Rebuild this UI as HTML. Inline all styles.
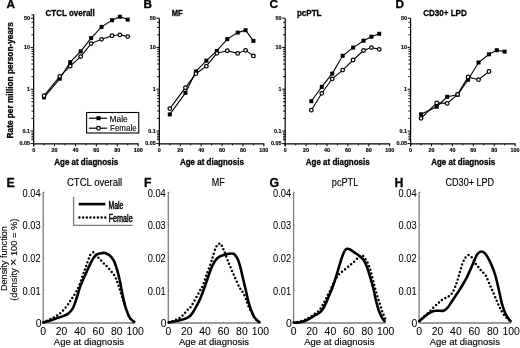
<!DOCTYPE html><html><head><meta charset="utf-8"><style>
html,body{margin:0;padding:0;background:#fff;width:520px;height:348px;overflow:hidden}
svg{display:block;will-change:transform}
text{font-family:"Liberation Sans", sans-serif}
.tl{font-size:5.4px;font-weight:bold;stroke:#000;stroke-width:0.15px}
.xt{font-size:8.5px;font-weight:bold;stroke:#000;stroke-width:0.3px}
.tt{font-size:8.4px;font-weight:bold;stroke:#000;stroke-width:0.3px}
.pl{font-size:11.8px;font-weight:bold;stroke:#000;stroke-width:0.3px}
.bl{font-size:10.4px;stroke:#000;stroke-width:0.05px}
.bx{font-size:9.8px;stroke:#000;stroke-width:0.15px}
.bt{font-size:10px;stroke:#000;stroke-width:0.15px}
.yt{font-size:8.4px;font-weight:bold;stroke:#000;stroke-width:0.3px}
.yb{font-size:9px;stroke:#000;stroke-width:0.12px}
.lg{font-size:8.4px;stroke:#000;stroke-width:0.12px}
.lgb{font-size:10.3px;stroke:#000;stroke-width:0.5px}
</style></head><body>
<svg width="520" height="348" viewBox="0 0 520 348">
<line x1="33.65" y1="14.6" x2="33.65" y2="146.20000000000002" stroke="#000" stroke-width="1.2"/>
<line x1="33.05" y1="143.8" x2="138.65" y2="143.8" stroke="#000" stroke-width="1.25"/>
<line x1="30.65" y1="18.18" x2="33.65" y2="18.18" stroke="#000" stroke-width="1"/>
<line x1="30.65" y1="47.40" x2="33.65" y2="47.40" stroke="#000" stroke-width="1"/>
<line x1="30.65" y1="89.20" x2="33.65" y2="89.20" stroke="#000" stroke-width="1"/>
<line x1="30.65" y1="131.00" x2="33.65" y2="131.00" stroke="#000" stroke-width="1"/>
<line x1="30.65" y1="143.58" x2="33.65" y2="143.58" stroke="#000" stroke-width="1"/>
<line x1="31.45" y1="34.82" x2="33.65" y2="34.82" stroke="#000" stroke-width="0.95"/>
<line x1="31.45" y1="27.46" x2="33.65" y2="27.46" stroke="#000" stroke-width="0.95"/>
<line x1="31.45" y1="22.23" x2="33.65" y2="22.23" stroke="#000" stroke-width="0.95"/>
<line x1="31.45" y1="76.62" x2="33.65" y2="76.62" stroke="#000" stroke-width="0.95"/>
<line x1="31.45" y1="69.26" x2="33.65" y2="69.26" stroke="#000" stroke-width="0.95"/>
<line x1="31.45" y1="64.03" x2="33.65" y2="64.03" stroke="#000" stroke-width="0.95"/>
<line x1="31.45" y1="59.98" x2="33.65" y2="59.98" stroke="#000" stroke-width="0.95"/>
<line x1="31.45" y1="56.67" x2="33.65" y2="56.67" stroke="#000" stroke-width="0.95"/>
<line x1="31.45" y1="53.87" x2="33.65" y2="53.87" stroke="#000" stroke-width="0.95"/>
<line x1="31.45" y1="51.45" x2="33.65" y2="51.45" stroke="#000" stroke-width="0.95"/>
<line x1="31.45" y1="49.31" x2="33.65" y2="49.31" stroke="#000" stroke-width="0.95"/>
<line x1="31.45" y1="118.42" x2="33.65" y2="118.42" stroke="#000" stroke-width="0.95"/>
<line x1="31.45" y1="111.06" x2="33.65" y2="111.06" stroke="#000" stroke-width="0.95"/>
<line x1="31.45" y1="105.83" x2="33.65" y2="105.83" stroke="#000" stroke-width="0.95"/>
<line x1="31.45" y1="101.78" x2="33.65" y2="101.78" stroke="#000" stroke-width="0.95"/>
<line x1="31.45" y1="98.47" x2="33.65" y2="98.47" stroke="#000" stroke-width="0.95"/>
<line x1="31.45" y1="95.67" x2="33.65" y2="95.67" stroke="#000" stroke-width="0.95"/>
<line x1="31.45" y1="93.25" x2="33.65" y2="93.25" stroke="#000" stroke-width="0.95"/>
<line x1="31.45" y1="91.11" x2="33.65" y2="91.11" stroke="#000" stroke-width="0.95"/>
<line x1="31.45" y1="14.87" x2="33.65" y2="14.87" stroke="#000" stroke-width="0.95"/>
<line x1="31.45" y1="133.00" x2="33.65" y2="133.00" stroke="#000" stroke-width="0.95"/>
<line x1="31.45" y1="134.60" x2="33.65" y2="134.60" stroke="#000" stroke-width="0.95"/>
<line x1="31.45" y1="136.30" x2="33.65" y2="136.30" stroke="#000" stroke-width="0.95"/>
<line x1="31.45" y1="138.00" x2="33.65" y2="138.00" stroke="#000" stroke-width="0.95"/>
<line x1="31.45" y1="139.70" x2="33.65" y2="139.70" stroke="#000" stroke-width="0.95"/>
<text x="29.95" y="20.08" text-anchor="end" class="tl">50</text>
<text x="29.95" y="49.30" text-anchor="end" class="tl">10</text>
<text x="29.95" y="91.10" text-anchor="end" class="tl">1</text>
<text x="29.95" y="132.90" text-anchor="end" class="tl">0.1</text>
<text x="29.95" y="145.48" text-anchor="end" class="tl">0.05</text>
<line x1="33.65" y1="143.8" x2="33.65" y2="146.3" stroke="#000" stroke-width="1"/>
<text x="33.65" y="151.9" text-anchor="middle" class="tl">0</text>
<line x1="44.10" y1="143.8" x2="44.10" y2="145.3" stroke="#000" stroke-width="1"/>
<line x1="54.55" y1="143.8" x2="54.55" y2="146.3" stroke="#000" stroke-width="1"/>
<text x="54.55" y="151.9" text-anchor="middle" class="tl">20</text>
<line x1="65.00" y1="143.8" x2="65.00" y2="145.3" stroke="#000" stroke-width="1"/>
<line x1="75.45" y1="143.8" x2="75.45" y2="146.3" stroke="#000" stroke-width="1"/>
<text x="75.45" y="151.9" text-anchor="middle" class="tl">40</text>
<line x1="85.90" y1="143.8" x2="85.90" y2="145.3" stroke="#000" stroke-width="1"/>
<line x1="96.35" y1="143.8" x2="96.35" y2="146.3" stroke="#000" stroke-width="1"/>
<text x="96.35" y="151.9" text-anchor="middle" class="tl">60</text>
<line x1="106.80" y1="143.8" x2="106.80" y2="145.3" stroke="#000" stroke-width="1"/>
<line x1="117.25" y1="143.8" x2="117.25" y2="146.3" stroke="#000" stroke-width="1"/>
<text x="117.25" y="151.9" text-anchor="middle" class="tl">80</text>
<line x1="127.70" y1="143.8" x2="127.70" y2="145.3" stroke="#000" stroke-width="1"/>
<line x1="138.15" y1="143.8" x2="138.15" y2="146.3" stroke="#000" stroke-width="1"/>
<text x="138.15" y="151.9" text-anchor="middle" class="tl">100</text>
<text x="54.25" y="165.3" class="xt" textLength="63.9" lengthAdjust="spacingAndGlyphs">Age at diagnosis</text>
<polyline fill="none" stroke="#000" stroke-width="1.1" points="44.10,97.40 59.77,78.70 70.22,62.20 80.67,51.40 91.12,38.10 101.57,26.90 112.03,20.20 119.86,16.70 127.70,19.60"/>
<polyline fill="none" stroke="#000" stroke-width="1.1" points="44.10,95.70 59.77,76.30 70.22,66.20 80.67,56.60 91.12,43.60 101.57,39.30 112.03,35.70 119.86,34.80 127.70,36.60"/>
<rect x="42.10" y="95.40" width="4" height="4" fill="#000"/>
<rect x="57.77" y="76.70" width="4" height="4" fill="#000"/>
<rect x="68.22" y="60.20" width="4" height="4" fill="#000"/>
<rect x="78.67" y="49.40" width="4" height="4" fill="#000"/>
<rect x="89.12" y="36.10" width="4" height="4" fill="#000"/>
<rect x="99.57" y="24.90" width="4" height="4" fill="#000"/>
<rect x="110.03" y="18.20" width="4" height="4" fill="#000"/>
<rect x="117.86" y="14.70" width="4" height="4" fill="#000"/>
<rect x="125.70" y="17.60" width="4" height="4" fill="#000"/>
<circle cx="44.10" cy="95.70" r="1.8" fill="#fff" stroke="#000" stroke-width="1.25"/>
<circle cx="59.77" cy="76.30" r="1.8" fill="#fff" stroke="#000" stroke-width="1.25"/>
<circle cx="70.22" cy="66.20" r="1.8" fill="#fff" stroke="#000" stroke-width="1.25"/>
<circle cx="80.67" cy="56.60" r="1.8" fill="#fff" stroke="#000" stroke-width="1.25"/>
<circle cx="91.12" cy="43.60" r="1.8" fill="#fff" stroke="#000" stroke-width="1.25"/>
<circle cx="101.57" cy="39.30" r="1.8" fill="#fff" stroke="#000" stroke-width="1.25"/>
<circle cx="112.03" cy="35.70" r="1.8" fill="#fff" stroke="#000" stroke-width="1.25"/>
<circle cx="119.86" cy="34.80" r="1.8" fill="#fff" stroke="#000" stroke-width="1.25"/>
<circle cx="127.70" cy="36.60" r="1.8" fill="#fff" stroke="#000" stroke-width="1.25"/>
<text x="6.6" y="8.3" class="pl">A</text>
<text x="45.5" y="16.0" class="tt" textLength="49.3" lengthAdjust="spacingAndGlyphs">CTCL overall</text>
<line x1="159.35" y1="18.2" x2="159.35" y2="146.20000000000002" stroke="#000" stroke-width="1.2"/>
<line x1="158.75" y1="143.8" x2="264.35" y2="143.8" stroke="#000" stroke-width="1.25"/>
<line x1="156.35" y1="18.18" x2="159.35" y2="18.18" stroke="#000" stroke-width="1"/>
<line x1="156.35" y1="47.40" x2="159.35" y2="47.40" stroke="#000" stroke-width="1"/>
<line x1="156.35" y1="89.20" x2="159.35" y2="89.20" stroke="#000" stroke-width="1"/>
<line x1="156.35" y1="131.00" x2="159.35" y2="131.00" stroke="#000" stroke-width="1"/>
<line x1="156.35" y1="143.58" x2="159.35" y2="143.58" stroke="#000" stroke-width="1"/>
<line x1="157.15" y1="34.82" x2="159.35" y2="34.82" stroke="#000" stroke-width="0.95"/>
<line x1="157.15" y1="27.46" x2="159.35" y2="27.46" stroke="#000" stroke-width="0.95"/>
<line x1="157.15" y1="22.23" x2="159.35" y2="22.23" stroke="#000" stroke-width="0.95"/>
<line x1="157.15" y1="76.62" x2="159.35" y2="76.62" stroke="#000" stroke-width="0.95"/>
<line x1="157.15" y1="69.26" x2="159.35" y2="69.26" stroke="#000" stroke-width="0.95"/>
<line x1="157.15" y1="64.03" x2="159.35" y2="64.03" stroke="#000" stroke-width="0.95"/>
<line x1="157.15" y1="59.98" x2="159.35" y2="59.98" stroke="#000" stroke-width="0.95"/>
<line x1="157.15" y1="56.67" x2="159.35" y2="56.67" stroke="#000" stroke-width="0.95"/>
<line x1="157.15" y1="53.87" x2="159.35" y2="53.87" stroke="#000" stroke-width="0.95"/>
<line x1="157.15" y1="51.45" x2="159.35" y2="51.45" stroke="#000" stroke-width="0.95"/>
<line x1="157.15" y1="49.31" x2="159.35" y2="49.31" stroke="#000" stroke-width="0.95"/>
<line x1="157.15" y1="118.42" x2="159.35" y2="118.42" stroke="#000" stroke-width="0.95"/>
<line x1="157.15" y1="111.06" x2="159.35" y2="111.06" stroke="#000" stroke-width="0.95"/>
<line x1="157.15" y1="105.83" x2="159.35" y2="105.83" stroke="#000" stroke-width="0.95"/>
<line x1="157.15" y1="101.78" x2="159.35" y2="101.78" stroke="#000" stroke-width="0.95"/>
<line x1="157.15" y1="98.47" x2="159.35" y2="98.47" stroke="#000" stroke-width="0.95"/>
<line x1="157.15" y1="95.67" x2="159.35" y2="95.67" stroke="#000" stroke-width="0.95"/>
<line x1="157.15" y1="93.25" x2="159.35" y2="93.25" stroke="#000" stroke-width="0.95"/>
<line x1="157.15" y1="91.11" x2="159.35" y2="91.11" stroke="#000" stroke-width="0.95"/>
<line x1="157.15" y1="133.00" x2="159.35" y2="133.00" stroke="#000" stroke-width="0.95"/>
<line x1="157.15" y1="134.60" x2="159.35" y2="134.60" stroke="#000" stroke-width="0.95"/>
<line x1="157.15" y1="136.30" x2="159.35" y2="136.30" stroke="#000" stroke-width="0.95"/>
<line x1="157.15" y1="138.00" x2="159.35" y2="138.00" stroke="#000" stroke-width="0.95"/>
<line x1="157.15" y1="139.70" x2="159.35" y2="139.70" stroke="#000" stroke-width="0.95"/>
<text x="155.65" y="20.08" text-anchor="end" class="tl">50</text>
<text x="155.65" y="49.30" text-anchor="end" class="tl">10</text>
<text x="155.65" y="91.10" text-anchor="end" class="tl">1</text>
<text x="155.65" y="132.90" text-anchor="end" class="tl">0.1</text>
<text x="155.65" y="145.48" text-anchor="end" class="tl">0.05</text>
<line x1="159.35" y1="143.8" x2="159.35" y2="146.3" stroke="#000" stroke-width="1"/>
<text x="159.35" y="151.9" text-anchor="middle" class="tl">0</text>
<line x1="169.80" y1="143.8" x2="169.80" y2="145.3" stroke="#000" stroke-width="1"/>
<line x1="180.25" y1="143.8" x2="180.25" y2="146.3" stroke="#000" stroke-width="1"/>
<text x="180.25" y="151.9" text-anchor="middle" class="tl">20</text>
<line x1="190.70" y1="143.8" x2="190.70" y2="145.3" stroke="#000" stroke-width="1"/>
<line x1="201.15" y1="143.8" x2="201.15" y2="146.3" stroke="#000" stroke-width="1"/>
<text x="201.15" y="151.9" text-anchor="middle" class="tl">40</text>
<line x1="211.60" y1="143.8" x2="211.60" y2="145.3" stroke="#000" stroke-width="1"/>
<line x1="222.05" y1="143.8" x2="222.05" y2="146.3" stroke="#000" stroke-width="1"/>
<text x="222.05" y="151.9" text-anchor="middle" class="tl">60</text>
<line x1="232.50" y1="143.8" x2="232.50" y2="145.3" stroke="#000" stroke-width="1"/>
<line x1="242.95" y1="143.8" x2="242.95" y2="146.3" stroke="#000" stroke-width="1"/>
<text x="242.95" y="151.9" text-anchor="middle" class="tl">80</text>
<line x1="253.40" y1="143.8" x2="253.40" y2="145.3" stroke="#000" stroke-width="1"/>
<line x1="263.85" y1="143.8" x2="263.85" y2="146.3" stroke="#000" stroke-width="1"/>
<text x="263.85" y="151.9" text-anchor="middle" class="tl">100</text>
<text x="179.95" y="165.3" class="xt" textLength="63.9" lengthAdjust="spacingAndGlyphs">Age at diagnosis</text>
<polyline fill="none" stroke="#000" stroke-width="1.1" points="169.80,114.40 185.47,92.90 195.92,71.40 206.38,60.70 216.82,50.90 227.27,39.10 237.72,32.60 245.56,30.20 253.40,40.90"/>
<polyline fill="none" stroke="#000" stroke-width="1.1" points="169.80,108.60 185.47,87.70 195.92,73.70 206.38,66.20 216.82,53.30 227.27,50.70 237.72,53.40 245.56,50.30 253.40,55.90"/>
<rect x="167.80" y="112.40" width="4" height="4" fill="#000"/>
<rect x="183.47" y="90.90" width="4" height="4" fill="#000"/>
<rect x="193.92" y="69.40" width="4" height="4" fill="#000"/>
<rect x="204.38" y="58.70" width="4" height="4" fill="#000"/>
<rect x="214.82" y="48.90" width="4" height="4" fill="#000"/>
<rect x="225.27" y="37.10" width="4" height="4" fill="#000"/>
<rect x="235.72" y="30.60" width="4" height="4" fill="#000"/>
<rect x="243.56" y="28.20" width="4" height="4" fill="#000"/>
<rect x="251.40" y="38.90" width="4" height="4" fill="#000"/>
<circle cx="169.80" cy="108.60" r="1.8" fill="#fff" stroke="#000" stroke-width="1.25"/>
<circle cx="185.47" cy="87.70" r="1.8" fill="#fff" stroke="#000" stroke-width="1.25"/>
<circle cx="195.92" cy="73.70" r="1.8" fill="#fff" stroke="#000" stroke-width="1.25"/>
<circle cx="206.38" cy="66.20" r="1.8" fill="#fff" stroke="#000" stroke-width="1.25"/>
<circle cx="216.82" cy="53.30" r="1.8" fill="#fff" stroke="#000" stroke-width="1.25"/>
<circle cx="227.27" cy="50.70" r="1.8" fill="#fff" stroke="#000" stroke-width="1.25"/>
<circle cx="237.72" cy="53.40" r="1.8" fill="#fff" stroke="#000" stroke-width="1.25"/>
<circle cx="245.56" cy="50.30" r="1.8" fill="#fff" stroke="#000" stroke-width="1.25"/>
<circle cx="253.40" cy="55.90" r="1.8" fill="#fff" stroke="#000" stroke-width="1.25"/>
<text x="143.4" y="8.3" class="pl">B</text>
<text x="171.70000000000002" y="16.0" class="tt" textLength="10.9" lengthAdjust="spacingAndGlyphs">MF</text>
<line x1="285.2" y1="18.2" x2="285.2" y2="146.20000000000002" stroke="#000" stroke-width="1.2"/>
<line x1="284.59999999999997" y1="143.8" x2="390.2" y2="143.8" stroke="#000" stroke-width="1.25"/>
<line x1="282.2" y1="18.18" x2="285.2" y2="18.18" stroke="#000" stroke-width="1"/>
<line x1="282.2" y1="47.40" x2="285.2" y2="47.40" stroke="#000" stroke-width="1"/>
<line x1="282.2" y1="89.20" x2="285.2" y2="89.20" stroke="#000" stroke-width="1"/>
<line x1="282.2" y1="131.00" x2="285.2" y2="131.00" stroke="#000" stroke-width="1"/>
<line x1="282.2" y1="143.58" x2="285.2" y2="143.58" stroke="#000" stroke-width="1"/>
<line x1="283.0" y1="34.82" x2="285.2" y2="34.82" stroke="#000" stroke-width="0.95"/>
<line x1="283.0" y1="27.46" x2="285.2" y2="27.46" stroke="#000" stroke-width="0.95"/>
<line x1="283.0" y1="22.23" x2="285.2" y2="22.23" stroke="#000" stroke-width="0.95"/>
<line x1="283.0" y1="76.62" x2="285.2" y2="76.62" stroke="#000" stroke-width="0.95"/>
<line x1="283.0" y1="69.26" x2="285.2" y2="69.26" stroke="#000" stroke-width="0.95"/>
<line x1="283.0" y1="64.03" x2="285.2" y2="64.03" stroke="#000" stroke-width="0.95"/>
<line x1="283.0" y1="59.98" x2="285.2" y2="59.98" stroke="#000" stroke-width="0.95"/>
<line x1="283.0" y1="56.67" x2="285.2" y2="56.67" stroke="#000" stroke-width="0.95"/>
<line x1="283.0" y1="53.87" x2="285.2" y2="53.87" stroke="#000" stroke-width="0.95"/>
<line x1="283.0" y1="51.45" x2="285.2" y2="51.45" stroke="#000" stroke-width="0.95"/>
<line x1="283.0" y1="49.31" x2="285.2" y2="49.31" stroke="#000" stroke-width="0.95"/>
<line x1="283.0" y1="118.42" x2="285.2" y2="118.42" stroke="#000" stroke-width="0.95"/>
<line x1="283.0" y1="111.06" x2="285.2" y2="111.06" stroke="#000" stroke-width="0.95"/>
<line x1="283.0" y1="105.83" x2="285.2" y2="105.83" stroke="#000" stroke-width="0.95"/>
<line x1="283.0" y1="101.78" x2="285.2" y2="101.78" stroke="#000" stroke-width="0.95"/>
<line x1="283.0" y1="98.47" x2="285.2" y2="98.47" stroke="#000" stroke-width="0.95"/>
<line x1="283.0" y1="95.67" x2="285.2" y2="95.67" stroke="#000" stroke-width="0.95"/>
<line x1="283.0" y1="93.25" x2="285.2" y2="93.25" stroke="#000" stroke-width="0.95"/>
<line x1="283.0" y1="91.11" x2="285.2" y2="91.11" stroke="#000" stroke-width="0.95"/>
<line x1="283.0" y1="133.00" x2="285.2" y2="133.00" stroke="#000" stroke-width="0.95"/>
<line x1="283.0" y1="134.60" x2="285.2" y2="134.60" stroke="#000" stroke-width="0.95"/>
<line x1="283.0" y1="136.30" x2="285.2" y2="136.30" stroke="#000" stroke-width="0.95"/>
<line x1="283.0" y1="138.00" x2="285.2" y2="138.00" stroke="#000" stroke-width="0.95"/>
<line x1="283.0" y1="139.70" x2="285.2" y2="139.70" stroke="#000" stroke-width="0.95"/>
<text x="281.5" y="20.08" text-anchor="end" class="tl">50</text>
<text x="281.5" y="49.30" text-anchor="end" class="tl">10</text>
<text x="281.5" y="91.10" text-anchor="end" class="tl">1</text>
<text x="281.5" y="132.90" text-anchor="end" class="tl">0.1</text>
<text x="281.5" y="145.48" text-anchor="end" class="tl">0.05</text>
<line x1="285.20" y1="143.8" x2="285.20" y2="146.3" stroke="#000" stroke-width="1"/>
<text x="285.20" y="151.9" text-anchor="middle" class="tl">0</text>
<line x1="295.65" y1="143.8" x2="295.65" y2="145.3" stroke="#000" stroke-width="1"/>
<line x1="306.10" y1="143.8" x2="306.10" y2="146.3" stroke="#000" stroke-width="1"/>
<text x="306.10" y="151.9" text-anchor="middle" class="tl">20</text>
<line x1="316.55" y1="143.8" x2="316.55" y2="145.3" stroke="#000" stroke-width="1"/>
<line x1="327.00" y1="143.8" x2="327.00" y2="146.3" stroke="#000" stroke-width="1"/>
<text x="327.00" y="151.9" text-anchor="middle" class="tl">40</text>
<line x1="337.45" y1="143.8" x2="337.45" y2="145.3" stroke="#000" stroke-width="1"/>
<line x1="347.90" y1="143.8" x2="347.90" y2="146.3" stroke="#000" stroke-width="1"/>
<text x="347.90" y="151.9" text-anchor="middle" class="tl">60</text>
<line x1="358.35" y1="143.8" x2="358.35" y2="145.3" stroke="#000" stroke-width="1"/>
<line x1="368.80" y1="143.8" x2="368.80" y2="146.3" stroke="#000" stroke-width="1"/>
<text x="368.80" y="151.9" text-anchor="middle" class="tl">80</text>
<line x1="379.25" y1="143.8" x2="379.25" y2="145.3" stroke="#000" stroke-width="1"/>
<line x1="389.70" y1="143.8" x2="389.70" y2="146.3" stroke="#000" stroke-width="1"/>
<text x="389.70" y="151.9" text-anchor="middle" class="tl">100</text>
<text x="305.80" y="165.3" class="xt" textLength="63.9" lengthAdjust="spacingAndGlyphs">Age at diagnosis</text>
<polyline fill="none" stroke="#000" stroke-width="1.1" points="311.32,101.20 321.77,86.90 332.22,73.60 342.67,55.80 353.12,47.60 363.57,40.70 371.41,36.70 379.25,33.80"/>
<polyline fill="none" stroke="#000" stroke-width="1.1" points="311.32,110.20 321.77,93.30 332.22,78.80 342.67,70.10 353.12,60.00 363.57,50.50 371.41,47.60 379.25,49.30"/>
<rect x="309.32" y="99.20" width="4" height="4" fill="#000"/>
<rect x="319.77" y="84.90" width="4" height="4" fill="#000"/>
<rect x="330.22" y="71.60" width="4" height="4" fill="#000"/>
<rect x="340.67" y="53.80" width="4" height="4" fill="#000"/>
<rect x="351.12" y="45.60" width="4" height="4" fill="#000"/>
<rect x="361.57" y="38.70" width="4" height="4" fill="#000"/>
<rect x="369.41" y="34.70" width="4" height="4" fill="#000"/>
<rect x="377.25" y="31.80" width="4" height="4" fill="#000"/>
<circle cx="311.32" cy="110.20" r="1.8" fill="#fff" stroke="#000" stroke-width="1.25"/>
<circle cx="321.77" cy="93.30" r="1.8" fill="#fff" stroke="#000" stroke-width="1.25"/>
<circle cx="332.22" cy="78.80" r="1.8" fill="#fff" stroke="#000" stroke-width="1.25"/>
<circle cx="342.67" cy="70.10" r="1.8" fill="#fff" stroke="#000" stroke-width="1.25"/>
<circle cx="353.12" cy="60.00" r="1.8" fill="#fff" stroke="#000" stroke-width="1.25"/>
<circle cx="363.57" cy="50.50" r="1.8" fill="#fff" stroke="#000" stroke-width="1.25"/>
<circle cx="371.41" cy="47.60" r="1.8" fill="#fff" stroke="#000" stroke-width="1.25"/>
<circle cx="379.25" cy="49.30" r="1.8" fill="#fff" stroke="#000" stroke-width="1.25"/>
<text x="269.6" y="8.3" class="pl">C</text>
<text x="296.90000000000003" y="16.0" class="tt" textLength="24.6" lengthAdjust="spacingAndGlyphs">pcPTL</text>
<line x1="410.6" y1="18.2" x2="410.6" y2="146.20000000000002" stroke="#000" stroke-width="1.2"/>
<line x1="410.0" y1="143.8" x2="515.6" y2="143.8" stroke="#000" stroke-width="1.25"/>
<line x1="407.6" y1="18.18" x2="410.6" y2="18.18" stroke="#000" stroke-width="1"/>
<line x1="407.6" y1="47.40" x2="410.6" y2="47.40" stroke="#000" stroke-width="1"/>
<line x1="407.6" y1="89.20" x2="410.6" y2="89.20" stroke="#000" stroke-width="1"/>
<line x1="407.6" y1="131.00" x2="410.6" y2="131.00" stroke="#000" stroke-width="1"/>
<line x1="407.6" y1="143.58" x2="410.6" y2="143.58" stroke="#000" stroke-width="1"/>
<line x1="408.40000000000003" y1="34.82" x2="410.6" y2="34.82" stroke="#000" stroke-width="0.95"/>
<line x1="408.40000000000003" y1="27.46" x2="410.6" y2="27.46" stroke="#000" stroke-width="0.95"/>
<line x1="408.40000000000003" y1="22.23" x2="410.6" y2="22.23" stroke="#000" stroke-width="0.95"/>
<line x1="408.40000000000003" y1="76.62" x2="410.6" y2="76.62" stroke="#000" stroke-width="0.95"/>
<line x1="408.40000000000003" y1="69.26" x2="410.6" y2="69.26" stroke="#000" stroke-width="0.95"/>
<line x1="408.40000000000003" y1="64.03" x2="410.6" y2="64.03" stroke="#000" stroke-width="0.95"/>
<line x1="408.40000000000003" y1="59.98" x2="410.6" y2="59.98" stroke="#000" stroke-width="0.95"/>
<line x1="408.40000000000003" y1="56.67" x2="410.6" y2="56.67" stroke="#000" stroke-width="0.95"/>
<line x1="408.40000000000003" y1="53.87" x2="410.6" y2="53.87" stroke="#000" stroke-width="0.95"/>
<line x1="408.40000000000003" y1="51.45" x2="410.6" y2="51.45" stroke="#000" stroke-width="0.95"/>
<line x1="408.40000000000003" y1="49.31" x2="410.6" y2="49.31" stroke="#000" stroke-width="0.95"/>
<line x1="408.40000000000003" y1="118.42" x2="410.6" y2="118.42" stroke="#000" stroke-width="0.95"/>
<line x1="408.40000000000003" y1="111.06" x2="410.6" y2="111.06" stroke="#000" stroke-width="0.95"/>
<line x1="408.40000000000003" y1="105.83" x2="410.6" y2="105.83" stroke="#000" stroke-width="0.95"/>
<line x1="408.40000000000003" y1="101.78" x2="410.6" y2="101.78" stroke="#000" stroke-width="0.95"/>
<line x1="408.40000000000003" y1="98.47" x2="410.6" y2="98.47" stroke="#000" stroke-width="0.95"/>
<line x1="408.40000000000003" y1="95.67" x2="410.6" y2="95.67" stroke="#000" stroke-width="0.95"/>
<line x1="408.40000000000003" y1="93.25" x2="410.6" y2="93.25" stroke="#000" stroke-width="0.95"/>
<line x1="408.40000000000003" y1="91.11" x2="410.6" y2="91.11" stroke="#000" stroke-width="0.95"/>
<line x1="408.40000000000003" y1="133.00" x2="410.6" y2="133.00" stroke="#000" stroke-width="0.95"/>
<line x1="408.40000000000003" y1="134.60" x2="410.6" y2="134.60" stroke="#000" stroke-width="0.95"/>
<line x1="408.40000000000003" y1="136.30" x2="410.6" y2="136.30" stroke="#000" stroke-width="0.95"/>
<line x1="408.40000000000003" y1="138.00" x2="410.6" y2="138.00" stroke="#000" stroke-width="0.95"/>
<line x1="408.40000000000003" y1="139.70" x2="410.6" y2="139.70" stroke="#000" stroke-width="0.95"/>
<text x="406.90000000000003" y="20.08" text-anchor="end" class="tl">50</text>
<text x="406.90000000000003" y="49.30" text-anchor="end" class="tl">10</text>
<text x="406.90000000000003" y="91.10" text-anchor="end" class="tl">1</text>
<text x="406.90000000000003" y="132.90" text-anchor="end" class="tl">0.1</text>
<text x="406.90000000000003" y="145.48" text-anchor="end" class="tl">0.05</text>
<line x1="410.60" y1="143.8" x2="410.60" y2="146.3" stroke="#000" stroke-width="1"/>
<text x="410.60" y="151.9" text-anchor="middle" class="tl">0</text>
<line x1="421.05" y1="143.8" x2="421.05" y2="145.3" stroke="#000" stroke-width="1"/>
<line x1="431.50" y1="143.8" x2="431.50" y2="146.3" stroke="#000" stroke-width="1"/>
<text x="431.50" y="151.9" text-anchor="middle" class="tl">20</text>
<line x1="441.95" y1="143.8" x2="441.95" y2="145.3" stroke="#000" stroke-width="1"/>
<line x1="452.40" y1="143.8" x2="452.40" y2="146.3" stroke="#000" stroke-width="1"/>
<text x="452.40" y="151.9" text-anchor="middle" class="tl">40</text>
<line x1="462.85" y1="143.8" x2="462.85" y2="145.3" stroke="#000" stroke-width="1"/>
<line x1="473.30" y1="143.8" x2="473.30" y2="146.3" stroke="#000" stroke-width="1"/>
<text x="473.30" y="151.9" text-anchor="middle" class="tl">60</text>
<line x1="483.75" y1="143.8" x2="483.75" y2="145.3" stroke="#000" stroke-width="1"/>
<line x1="494.20" y1="143.8" x2="494.20" y2="146.3" stroke="#000" stroke-width="1"/>
<text x="494.20" y="151.9" text-anchor="middle" class="tl">80</text>
<line x1="504.65" y1="143.8" x2="504.65" y2="145.3" stroke="#000" stroke-width="1"/>
<line x1="515.10" y1="143.8" x2="515.10" y2="146.3" stroke="#000" stroke-width="1"/>
<text x="515.10" y="151.9" text-anchor="middle" class="tl">100</text>
<text x="431.20" y="165.3" class="xt" textLength="63.9" lengthAdjust="spacingAndGlyphs">Age at diagnosis</text>
<polyline fill="none" stroke="#000" stroke-width="1.1" points="421.05,114.30 436.73,106.70 447.18,96.80 457.62,94.80 468.08,79.70 478.53,62.50 488.98,54.30 496.81,50.20 504.65,51.60"/>
<polyline fill="none" stroke="#000" stroke-width="1.1" points="421.05,118.30 436.73,102.90 447.18,103.40 457.62,94.40 468.08,76.90 478.53,79.70 488.98,71.50"/>
<rect x="419.05" y="112.30" width="4" height="4" fill="#000"/>
<rect x="434.73" y="104.70" width="4" height="4" fill="#000"/>
<rect x="445.18" y="94.80" width="4" height="4" fill="#000"/>
<rect x="455.62" y="92.80" width="4" height="4" fill="#000"/>
<rect x="466.08" y="77.70" width="4" height="4" fill="#000"/>
<rect x="476.53" y="60.50" width="4" height="4" fill="#000"/>
<rect x="486.98" y="52.30" width="4" height="4" fill="#000"/>
<rect x="494.81" y="48.20" width="4" height="4" fill="#000"/>
<rect x="502.65" y="49.60" width="4" height="4" fill="#000"/>
<circle cx="421.05" cy="118.30" r="1.8" fill="#fff" stroke="#000" stroke-width="1.25"/>
<circle cx="436.73" cy="102.90" r="1.8" fill="#fff" stroke="#000" stroke-width="1.25"/>
<circle cx="447.18" cy="103.40" r="1.8" fill="#fff" stroke="#000" stroke-width="1.25"/>
<circle cx="457.62" cy="94.40" r="1.8" fill="#fff" stroke="#000" stroke-width="1.25"/>
<circle cx="468.08" cy="76.90" r="1.8" fill="#fff" stroke="#000" stroke-width="1.25"/>
<circle cx="478.53" cy="79.70" r="1.8" fill="#fff" stroke="#000" stroke-width="1.25"/>
<circle cx="488.98" cy="71.50" r="1.8" fill="#fff" stroke="#000" stroke-width="1.25"/>
<text x="395.5" y="8.3" class="pl">D</text>
<text x="423.2" y="16.0" class="tt" textLength="43.6" lengthAdjust="spacingAndGlyphs">CD30+ LPD</text>
<line x1="43.2" y1="192.3" x2="43.2" y2="323.0" stroke="#7c7c7c" stroke-width="1.3"/>
<line x1="43.2" y1="323.0" x2="135.20" y2="323.0" stroke="#7c7c7c" stroke-width="1.3"/>
<line x1="43.2" y1="290.32" x2="44.400000000000006" y2="290.32" stroke="#7c7c7c" stroke-width="0.8"/>
<line x1="43.2" y1="257.65" x2="44.400000000000006" y2="257.65" stroke="#7c7c7c" stroke-width="0.8"/>
<line x1="43.2" y1="224.98" x2="44.400000000000006" y2="224.98" stroke="#7c7c7c" stroke-width="0.8"/>
<line x1="43.2" y1="192.30" x2="44.400000000000006" y2="192.30" stroke="#7c7c7c" stroke-width="0.8"/>
<line x1="43.2" y1="192.3" x2="44.400000000000006" y2="192.3" stroke="#7c7c7c" stroke-width="0.8"/>
<line x1="61.60" y1="323.0" x2="61.60" y2="321.8" stroke="#7c7c7c" stroke-width="0.8"/>
<line x1="80.00" y1="323.0" x2="80.00" y2="321.8" stroke="#7c7c7c" stroke-width="0.8"/>
<line x1="98.40" y1="323.0" x2="98.40" y2="321.8" stroke="#7c7c7c" stroke-width="0.8"/>
<line x1="116.80" y1="323.0" x2="116.80" y2="321.8" stroke="#7c7c7c" stroke-width="0.8"/>
<line x1="135.20" y1="323.0" x2="135.20" y2="321.8" stroke="#7c7c7c" stroke-width="0.8"/>
<text x="41.50" y="326.90" text-anchor="end" class="bl">0</text>
<text x="40.70" y="294.52" text-anchor="end" class="bl" textLength="18.1" lengthAdjust="spacingAndGlyphs">0.01</text>
<text x="40.70" y="261.85" text-anchor="end" class="bl" textLength="18.1" lengthAdjust="spacingAndGlyphs">0.02</text>
<text x="40.70" y="229.18" text-anchor="end" class="bl" textLength="18.1" lengthAdjust="spacingAndGlyphs">0.03</text>
<text x="40.70" y="196.50" text-anchor="end" class="bl" textLength="18.1" lengthAdjust="spacingAndGlyphs">0.04</text>
<text x="43.20" y="335.0" text-anchor="middle" class="bl">0</text>
<text x="61.60" y="335.0" text-anchor="middle" class="bl">20</text>
<text x="80.00" y="335.0" text-anchor="middle" class="bl">40</text>
<text x="98.40" y="335.0" text-anchor="middle" class="bl">60</text>
<text x="116.80" y="335.0" text-anchor="middle" class="bl">80</text>
<text x="135.20" y="335.0" text-anchor="middle" class="bl">100</text>
<text x="53.80" y="345.3" class="bx" textLength="70.2" lengthAdjust="spacingAndGlyphs">Age at diagnosis</text>
<path d="M43.20,322.50 C44.58,321.83 48.92,319.83 51.50,318.50 C54.08,317.17 56.30,316.37 58.70,314.50 C61.10,312.63 63.93,309.63 65.90,307.30 C67.87,304.97 69.07,302.63 70.50,300.50 C71.93,298.37 73.12,296.82 74.50,294.50 C75.88,292.18 77.22,290.37 78.80,286.60 C80.38,282.83 82.73,275.47 84.00,271.90 C85.27,268.33 85.57,267.53 86.40,265.20 C87.23,262.87 88.28,259.72 89.00,257.90 C89.72,256.08 89.90,255.23 90.70,254.30 C91.50,253.37 92.83,252.08 93.80,252.30 C94.77,252.52 95.47,254.43 96.50,255.60 C97.53,256.77 98.87,258.08 100.00,259.30 C101.13,260.52 102.15,261.72 103.30,262.90 C104.45,264.08 105.77,265.20 106.90,266.40 C108.03,267.60 109.08,268.87 110.10,270.10 C111.12,271.33 112.10,272.58 113.00,273.80 C113.90,275.02 114.73,275.85 115.50,277.40 C116.27,278.95 116.82,280.85 117.60,283.10 C118.38,285.35 119.37,288.32 120.20,290.90 C121.03,293.48 121.67,295.82 122.60,298.60 C123.53,301.38 124.62,304.38 125.80,307.60 C126.98,310.82 128.20,315.43 129.70,317.90 C131.20,320.37 133.95,321.65 134.80,322.40" fill="none" stroke="#000" stroke-width="2.5" stroke-linecap="round" stroke-dasharray="0 3.9"/>
<path d="M43.20,322.50 C44.10,322.25 46.27,321.73 48.60,321.00 C50.93,320.27 54.57,319.00 57.20,318.10 C59.83,317.20 62.48,316.40 64.40,315.60 C66.32,314.80 67.27,314.57 68.70,313.30 C70.13,312.03 71.70,310.47 73.00,308.00 C74.30,305.53 75.30,302.07 76.50,298.50 C77.70,294.93 78.65,290.73 80.20,286.60 C81.75,282.47 84.27,277.17 85.80,273.70 C87.33,270.23 88.20,268.32 89.40,265.80 C90.60,263.28 91.80,260.45 93.00,258.60 C94.20,256.75 95.53,255.53 96.60,254.70 C97.67,253.87 98.12,253.90 99.40,253.60 C100.68,253.30 102.62,252.63 104.30,252.90 C105.98,253.17 107.92,253.90 109.50,255.20 C111.08,256.50 112.52,258.20 113.80,260.70 C115.08,263.20 116.20,266.90 117.20,270.20 C118.20,273.50 119.02,276.95 119.80,280.50 C120.58,284.05 120.98,287.17 121.90,291.50 C122.82,295.83 124.00,302.15 125.30,306.50 C126.60,310.85 128.12,314.95 129.70,317.60 C131.28,320.25 133.95,321.60 134.80,322.40" fill="none" stroke="#000" stroke-width="2.6" stroke-linejoin="round"/>
<text x="6.5" y="186.5" class="pl" style="font-size:12.3px">E</text>
<text x="67.0" y="185.6" class="bt" textLength="55.2" lengthAdjust="spacingAndGlyphs">CTCL overall</text>
<line x1="168.3" y1="192.3" x2="168.3" y2="323.0" stroke="#7c7c7c" stroke-width="1.3"/>
<line x1="168.3" y1="323.0" x2="260.30" y2="323.0" stroke="#7c7c7c" stroke-width="1.3"/>
<line x1="168.3" y1="290.32" x2="169.5" y2="290.32" stroke="#7c7c7c" stroke-width="0.8"/>
<line x1="168.3" y1="257.65" x2="169.5" y2="257.65" stroke="#7c7c7c" stroke-width="0.8"/>
<line x1="168.3" y1="224.98" x2="169.5" y2="224.98" stroke="#7c7c7c" stroke-width="0.8"/>
<line x1="168.3" y1="192.30" x2="169.5" y2="192.30" stroke="#7c7c7c" stroke-width="0.8"/>
<line x1="168.3" y1="192.3" x2="169.5" y2="192.3" stroke="#7c7c7c" stroke-width="0.8"/>
<line x1="186.70" y1="323.0" x2="186.70" y2="321.8" stroke="#7c7c7c" stroke-width="0.8"/>
<line x1="205.10" y1="323.0" x2="205.10" y2="321.8" stroke="#7c7c7c" stroke-width="0.8"/>
<line x1="223.50" y1="323.0" x2="223.50" y2="321.8" stroke="#7c7c7c" stroke-width="0.8"/>
<line x1="241.90" y1="323.0" x2="241.90" y2="321.8" stroke="#7c7c7c" stroke-width="0.8"/>
<line x1="260.30" y1="323.0" x2="260.30" y2="321.8" stroke="#7c7c7c" stroke-width="0.8"/>
<text x="166.60" y="326.90" text-anchor="end" class="bl">0</text>
<text x="165.80" y="294.52" text-anchor="end" class="bl" textLength="18.1" lengthAdjust="spacingAndGlyphs">0.01</text>
<text x="165.80" y="261.85" text-anchor="end" class="bl" textLength="18.1" lengthAdjust="spacingAndGlyphs">0.02</text>
<text x="165.80" y="229.18" text-anchor="end" class="bl" textLength="18.1" lengthAdjust="spacingAndGlyphs">0.03</text>
<text x="165.80" y="196.50" text-anchor="end" class="bl" textLength="18.1" lengthAdjust="spacingAndGlyphs">0.04</text>
<text x="168.30" y="335.0" text-anchor="middle" class="bl">0</text>
<text x="186.70" y="335.0" text-anchor="middle" class="bl">20</text>
<text x="205.10" y="335.0" text-anchor="middle" class="bl">40</text>
<text x="223.50" y="335.0" text-anchor="middle" class="bl">60</text>
<text x="241.90" y="335.0" text-anchor="middle" class="bl">80</text>
<text x="260.30" y="335.0" text-anchor="middle" class="bl">100</text>
<text x="178.90" y="345.3" class="bx" textLength="70.2" lengthAdjust="spacingAndGlyphs">Age at diagnosis</text>
<path d="M168.60,322.40 C169.92,321.92 174.23,320.58 176.50,319.50 C178.77,318.42 180.52,317.33 182.20,315.90 C183.88,314.47 185.15,312.45 186.60,310.90 C188.05,309.35 189.47,308.52 190.90,306.60 C192.33,304.68 193.77,301.92 195.20,299.40 C196.63,296.88 198.18,293.90 199.50,291.50 C200.82,289.10 201.92,287.83 203.10,285.00 C204.28,282.17 205.35,278.02 206.60,274.50 C207.85,270.98 209.55,266.90 210.60,263.90 C211.65,260.90 212.13,258.95 212.90,256.50 C213.67,254.05 214.48,251.07 215.20,249.20 C215.92,247.33 216.52,246.23 217.20,245.30 C217.88,244.37 218.68,243.83 219.30,243.60 C219.92,243.37 220.33,243.18 220.90,243.90 C221.47,244.62 222.12,246.62 222.70,247.90 C223.28,249.18 223.68,249.80 224.40,251.60 C225.12,253.40 226.07,256.30 227.00,258.70 C227.93,261.10 228.72,262.95 230.00,266.00 C231.28,269.05 233.13,273.47 234.70,277.00 C236.27,280.53 238.02,284.57 239.40,287.20 C240.78,289.83 241.93,290.88 243.00,292.80 C244.07,294.72 244.97,296.65 245.80,298.70 C246.63,300.75 247.15,303.05 248.00,305.10 C248.85,307.15 249.82,308.92 250.90,311.00 C251.98,313.08 253.07,315.70 254.50,317.60 C255.93,319.50 258.67,321.60 259.50,322.40" fill="none" stroke="#000" stroke-width="2.5" stroke-linecap="round" stroke-dasharray="0 3.9"/>
<path d="M168.60,322.40 C169.68,322.20 173.07,321.62 175.10,321.20 C177.13,320.78 179.02,320.35 180.80,319.90 C182.58,319.45 184.37,319.05 185.80,318.50 C187.23,317.95 188.20,317.63 189.40,316.60 C190.60,315.57 191.80,314.08 193.00,312.30 C194.20,310.52 195.40,308.17 196.60,305.90 C197.80,303.63 199.00,301.47 200.20,298.70 C201.40,295.93 202.63,292.47 203.80,289.30 C204.97,286.13 206.13,282.75 207.20,279.70 C208.27,276.65 209.23,273.53 210.20,271.00 C211.17,268.47 212.03,266.40 213.00,264.50 C213.97,262.60 214.92,260.90 216.00,259.60 C217.08,258.30 218.17,257.47 219.50,256.70 C220.83,255.93 222.40,255.48 224.00,255.00 C225.60,254.52 227.70,254.03 229.10,253.80 C230.50,253.57 231.42,253.43 232.40,253.60 C233.38,253.77 234.05,253.73 235.00,254.80 C235.95,255.87 237.15,257.70 238.10,260.00 C239.05,262.30 239.83,265.30 240.70,268.60 C241.57,271.90 242.45,276.22 243.30,279.80 C244.15,283.38 245.02,286.72 245.80,290.10 C246.58,293.48 247.15,296.87 248.00,300.10 C248.85,303.33 249.82,306.62 250.90,309.50 C251.98,312.38 253.07,315.25 254.50,317.40 C255.93,319.55 258.67,321.57 259.50,322.40" fill="none" stroke="#000" stroke-width="2.6" stroke-linejoin="round"/>
<text x="144.0" y="186.5" class="pl" style="font-size:12.3px">F</text>
<text x="211.7" y="185.6" class="bt" textLength="13.0" lengthAdjust="spacingAndGlyphs">MF</text>
<line x1="293.6" y1="192.3" x2="293.6" y2="323.0" stroke="#7c7c7c" stroke-width="1.3"/>
<line x1="293.6" y1="323.0" x2="385.60" y2="323.0" stroke="#7c7c7c" stroke-width="1.3"/>
<line x1="293.6" y1="290.32" x2="294.8" y2="290.32" stroke="#7c7c7c" stroke-width="0.8"/>
<line x1="293.6" y1="257.65" x2="294.8" y2="257.65" stroke="#7c7c7c" stroke-width="0.8"/>
<line x1="293.6" y1="224.98" x2="294.8" y2="224.98" stroke="#7c7c7c" stroke-width="0.8"/>
<line x1="293.6" y1="192.30" x2="294.8" y2="192.30" stroke="#7c7c7c" stroke-width="0.8"/>
<line x1="293.6" y1="192.3" x2="294.8" y2="192.3" stroke="#7c7c7c" stroke-width="0.8"/>
<line x1="312.00" y1="323.0" x2="312.00" y2="321.8" stroke="#7c7c7c" stroke-width="0.8"/>
<line x1="330.40" y1="323.0" x2="330.40" y2="321.8" stroke="#7c7c7c" stroke-width="0.8"/>
<line x1="348.80" y1="323.0" x2="348.80" y2="321.8" stroke="#7c7c7c" stroke-width="0.8"/>
<line x1="367.20" y1="323.0" x2="367.20" y2="321.8" stroke="#7c7c7c" stroke-width="0.8"/>
<line x1="385.60" y1="323.0" x2="385.60" y2="321.8" stroke="#7c7c7c" stroke-width="0.8"/>
<text x="291.90" y="326.90" text-anchor="end" class="bl">0</text>
<text x="291.10" y="294.52" text-anchor="end" class="bl" textLength="18.1" lengthAdjust="spacingAndGlyphs">0.01</text>
<text x="291.10" y="261.85" text-anchor="end" class="bl" textLength="18.1" lengthAdjust="spacingAndGlyphs">0.02</text>
<text x="291.10" y="229.18" text-anchor="end" class="bl" textLength="18.1" lengthAdjust="spacingAndGlyphs">0.03</text>
<text x="291.10" y="196.50" text-anchor="end" class="bl" textLength="18.1" lengthAdjust="spacingAndGlyphs">0.04</text>
<text x="293.60" y="335.0" text-anchor="middle" class="bl">0</text>
<text x="312.00" y="335.0" text-anchor="middle" class="bl">20</text>
<text x="330.40" y="335.0" text-anchor="middle" class="bl">40</text>
<text x="348.80" y="335.0" text-anchor="middle" class="bl">60</text>
<text x="367.20" y="335.0" text-anchor="middle" class="bl">80</text>
<text x="385.60" y="335.0" text-anchor="middle" class="bl">100</text>
<text x="304.20" y="345.3" class="bx" textLength="70.2" lengthAdjust="spacingAndGlyphs">Age at diagnosis</text>
<path d="M293.60,322.50 C294.92,322.25 298.98,321.75 301.50,321.00 C304.02,320.25 306.70,319.08 308.70,318.00 C310.70,316.92 311.83,315.68 313.50,314.50 C315.17,313.32 317.12,312.58 318.70,310.90 C320.28,309.22 321.80,306.43 323.00,304.40 C324.20,302.37 324.70,301.02 325.90,298.70 C327.10,296.38 328.93,293.12 330.20,290.50 C331.47,287.88 332.45,285.17 333.50,283.00 C334.55,280.83 335.62,278.92 336.50,277.50 C337.38,276.08 337.55,275.72 338.80,274.50 C340.05,273.28 342.28,271.63 344.00,270.20 C345.72,268.77 347.38,267.33 349.10,265.90 C350.82,264.47 352.72,263.05 354.30,261.60 C355.88,260.15 357.30,258.22 358.60,257.20 C359.90,256.18 360.95,255.20 362.10,255.50 C363.25,255.80 364.35,257.27 365.50,259.00 C366.65,260.73 367.98,263.32 369.00,265.90 C370.02,268.48 370.75,271.35 371.60,274.50 C372.45,277.65 373.25,281.55 374.10,284.80 C374.95,288.05 375.80,290.97 376.70,294.00 C377.60,297.03 378.57,300.07 379.50,303.00 C380.43,305.93 381.35,308.97 382.30,311.60 C383.25,314.23 384.72,317.60 385.20,318.80" fill="none" stroke="#000" stroke-width="2.5" stroke-linecap="round" stroke-dasharray="0 3.9"/>
<path d="M293.60,322.70 C294.92,322.60 298.98,322.70 301.50,322.10 C304.02,321.50 306.43,320.25 308.70,319.10 C310.97,317.95 313.30,316.25 315.10,315.20 C316.90,314.15 318.18,313.88 319.50,312.80 C320.82,311.72 321.82,310.57 323.00,308.70 C324.18,306.83 325.40,304.23 326.60,301.60 C327.80,298.97 329.12,295.55 330.20,292.90 C331.28,290.25 332.10,288.48 333.10,285.70 C334.10,282.92 335.25,279.22 336.20,276.20 C337.15,273.18 337.93,270.47 338.80,267.60 C339.67,264.73 340.53,261.58 341.40,259.00 C342.27,256.42 343.13,253.77 344.00,252.10 C344.87,250.43 345.60,249.43 346.60,249.00 C347.60,248.57 348.72,248.93 350.00,249.50 C351.28,250.07 352.72,251.33 354.30,252.40 C355.88,253.47 357.92,254.58 359.50,255.90 C361.08,257.22 362.52,258.35 363.80,260.30 C365.08,262.25 366.13,264.80 367.20,267.60 C368.27,270.40 369.18,273.65 370.20,277.10 C371.22,280.55 372.35,284.47 373.30,288.30 C374.25,292.13 375.00,296.45 375.90,300.10 C376.80,303.75 377.63,307.20 378.70,310.20 C379.77,313.20 381.22,316.12 382.30,318.10 C383.38,320.08 384.72,321.43 385.20,322.10" fill="none" stroke="#000" stroke-width="2.6" stroke-linejoin="round"/>
<text x="269.5" y="186.5" class="pl" style="font-size:12.3px">G</text>
<text x="331.8" y="185.6" class="bt" textLength="26.5" lengthAdjust="spacingAndGlyphs">pcPTL</text>
<line x1="419.1" y1="192.3" x2="419.1" y2="323.0" stroke="#7c7c7c" stroke-width="1.3"/>
<line x1="419.1" y1="323.0" x2="511.10" y2="323.0" stroke="#7c7c7c" stroke-width="1.3"/>
<line x1="419.1" y1="290.32" x2="420.3" y2="290.32" stroke="#7c7c7c" stroke-width="0.8"/>
<line x1="419.1" y1="257.65" x2="420.3" y2="257.65" stroke="#7c7c7c" stroke-width="0.8"/>
<line x1="419.1" y1="224.98" x2="420.3" y2="224.98" stroke="#7c7c7c" stroke-width="0.8"/>
<line x1="419.1" y1="192.30" x2="420.3" y2="192.30" stroke="#7c7c7c" stroke-width="0.8"/>
<line x1="419.1" y1="192.3" x2="420.3" y2="192.3" stroke="#7c7c7c" stroke-width="0.8"/>
<line x1="437.50" y1="323.0" x2="437.50" y2="321.8" stroke="#7c7c7c" stroke-width="0.8"/>
<line x1="455.90" y1="323.0" x2="455.90" y2="321.8" stroke="#7c7c7c" stroke-width="0.8"/>
<line x1="474.30" y1="323.0" x2="474.30" y2="321.8" stroke="#7c7c7c" stroke-width="0.8"/>
<line x1="492.70" y1="323.0" x2="492.70" y2="321.8" stroke="#7c7c7c" stroke-width="0.8"/>
<line x1="511.10" y1="323.0" x2="511.10" y2="321.8" stroke="#7c7c7c" stroke-width="0.8"/>
<text x="417.40" y="326.90" text-anchor="end" class="bl">0</text>
<text x="416.60" y="294.52" text-anchor="end" class="bl" textLength="18.1" lengthAdjust="spacingAndGlyphs">0.01</text>
<text x="416.60" y="261.85" text-anchor="end" class="bl" textLength="18.1" lengthAdjust="spacingAndGlyphs">0.02</text>
<text x="416.60" y="229.18" text-anchor="end" class="bl" textLength="18.1" lengthAdjust="spacingAndGlyphs">0.03</text>
<text x="416.60" y="196.50" text-anchor="end" class="bl" textLength="18.1" lengthAdjust="spacingAndGlyphs">0.04</text>
<text x="419.10" y="335.0" text-anchor="middle" class="bl">0</text>
<text x="437.50" y="335.0" text-anchor="middle" class="bl">20</text>
<text x="455.90" y="335.0" text-anchor="middle" class="bl">40</text>
<text x="474.30" y="335.0" text-anchor="middle" class="bl">60</text>
<text x="492.70" y="335.0" text-anchor="middle" class="bl">80</text>
<text x="511.10" y="335.0" text-anchor="middle" class="bl">100</text>
<text x="429.70" y="345.3" class="bx" textLength="70.2" lengthAdjust="spacingAndGlyphs">Age at diagnosis</text>
<path d="M419.10,321.30 C419.75,320.67 421.67,318.72 423.00,317.50 C424.33,316.28 425.57,315.45 427.10,314.00 C428.63,312.55 430.52,310.45 432.20,308.80 C433.88,307.15 435.65,305.53 437.20,304.10 C438.75,302.67 440.07,301.25 441.50,300.20 C442.93,299.15 444.48,298.52 445.80,297.80 C447.12,297.08 448.33,296.70 449.40,295.90 C450.47,295.10 451.37,294.20 452.20,293.00 C453.03,291.80 453.72,290.25 454.40,288.70 C455.08,287.15 455.70,285.38 456.30,283.70 C456.90,282.02 457.48,280.28 458.00,278.60 C458.52,276.92 458.92,275.27 459.40,273.60 C459.88,271.93 460.38,270.28 460.90,268.60 C461.42,266.92 461.82,265.25 462.50,263.50 C463.18,261.75 464.00,259.50 465.00,258.10 C466.00,256.70 467.33,255.18 468.50,255.10 C469.67,255.02 470.82,256.18 472.00,257.60 C473.18,259.02 474.42,261.85 475.60,263.60 C476.78,265.35 478.02,266.75 479.10,268.10 C480.18,269.45 481.02,270.52 482.10,271.70 C483.18,272.88 484.55,273.58 485.60,275.20 C486.65,276.82 487.50,279.37 488.40,281.40 C489.30,283.43 490.13,285.40 491.00,287.40 C491.87,289.40 492.73,291.38 493.60,293.40 C494.47,295.42 495.33,297.48 496.20,299.50 C497.07,301.52 497.93,303.63 498.80,305.50 C499.67,307.37 500.40,308.97 501.40,310.70 C502.40,312.43 503.65,314.47 504.80,315.90 C505.95,317.33 507.23,318.32 508.30,319.30 C509.37,320.28 510.72,321.38 511.20,321.80" fill="none" stroke="#000" stroke-width="2.5" stroke-linecap="round" stroke-dasharray="0 3.9"/>
<path d="M419.10,321.30 C419.85,320.65 422.13,318.62 423.60,317.40 C425.07,316.18 426.47,315.00 427.90,314.00 C429.33,313.00 430.62,311.95 432.20,311.40 C433.78,310.85 435.52,310.82 437.40,310.70 C439.28,310.58 441.87,311.13 443.50,310.70 C445.13,310.27 445.98,309.37 447.20,308.10 C448.42,306.83 449.48,305.02 450.80,303.10 C452.12,301.18 453.67,298.77 455.10,296.60 C456.53,294.43 457.92,292.45 459.40,290.10 C460.88,287.75 462.73,284.68 464.00,282.50 C465.27,280.32 465.98,279.05 467.00,277.00 C468.02,274.95 468.92,272.85 470.10,270.20 C471.28,267.55 472.93,263.70 474.10,261.10 C475.27,258.50 475.93,256.20 477.10,254.60 C478.27,253.00 479.85,251.77 481.10,251.50 C482.35,251.23 483.52,252.07 484.60,253.00 C485.68,253.93 486.58,255.42 487.60,257.10 C488.62,258.78 489.77,261.10 490.70,263.10 C491.63,265.10 492.40,266.95 493.20,269.10 C494.00,271.25 494.72,273.23 495.50,276.00 C496.28,278.77 497.12,282.37 497.90,285.70 C498.68,289.03 499.48,292.83 500.20,296.00 C500.92,299.17 501.35,301.82 502.20,304.70 C503.05,307.58 504.28,311.02 505.30,313.30 C506.32,315.58 507.32,316.98 508.30,318.40 C509.28,319.82 510.72,321.23 511.20,321.80" fill="none" stroke="#000" stroke-width="2.6" stroke-linejoin="round"/>
<text x="394.5" y="186.5" class="pl" style="font-size:12.3px">H</text>
<text x="445.5" y="185.6" class="bt" textLength="48.6" lengthAdjust="spacingAndGlyphs">CD30+ LPD</text>
<text transform="translate(13.4,80.3) rotate(-90)" text-anchor="middle" class="yt" textLength="116.2" lengthAdjust="spacingAndGlyphs">Rate per million person-years</text>
<text transform="translate(6.7,258.6) rotate(-90)" text-anchor="middle" class="yb" textLength="65" lengthAdjust="spacingAndGlyphs">Density function</text>
<text transform="translate(17.2,259.7) rotate(-90)" text-anchor="middle" class="yb" textLength="82.3" lengthAdjust="spacingAndGlyphs">(density <tspan style="font-size:11.5px">×</tspan> 100 = %)</text>
<rect x="86.6" y="112.5" width="52.15" height="20.5" fill="#fff" stroke="#000" stroke-width="1.1"/>
<line x1="89" y1="118.2" x2="106.9" y2="118.2" stroke="#000" stroke-width="1.2"/>
<rect x="96.5" y="116.2" width="4" height="4" fill="#000"/>
<line x1="89" y1="128.2" x2="106.9" y2="128.2" stroke="#000" stroke-width="1.2"/>
<circle cx="98.5" cy="128.2" r="1.8" fill="#fff" stroke="#000" stroke-width="1.25"/>
<text x="109.6" y="121.5" class="lg">Male</text>
<text x="110.1" y="131.3" class="lg" textLength="26.5" lengthAdjust="spacingAndGlyphs">Female</text>
<polyline points="73.6,196.7 73.6,225.3 132.6,225.3" fill="none" stroke="#7c7c7c" stroke-width="1.3"/>
<line x1="78.7" y1="204.1" x2="105.3" y2="204.1" stroke="#000" stroke-width="2.6"/>
<line x1="79.4" y1="217.6" x2="105.3" y2="217.6" stroke="#000" stroke-width="2.5" stroke-linecap="round" stroke-dasharray="0 3.7"/>
<text transform="translate(108.4,208.8) scale(0.67,1)" class="lgb">Male</text>
<text transform="translate(108.7,222.0) scale(0.70,1)" class="lgb">Female</text>
</svg></body></html>
